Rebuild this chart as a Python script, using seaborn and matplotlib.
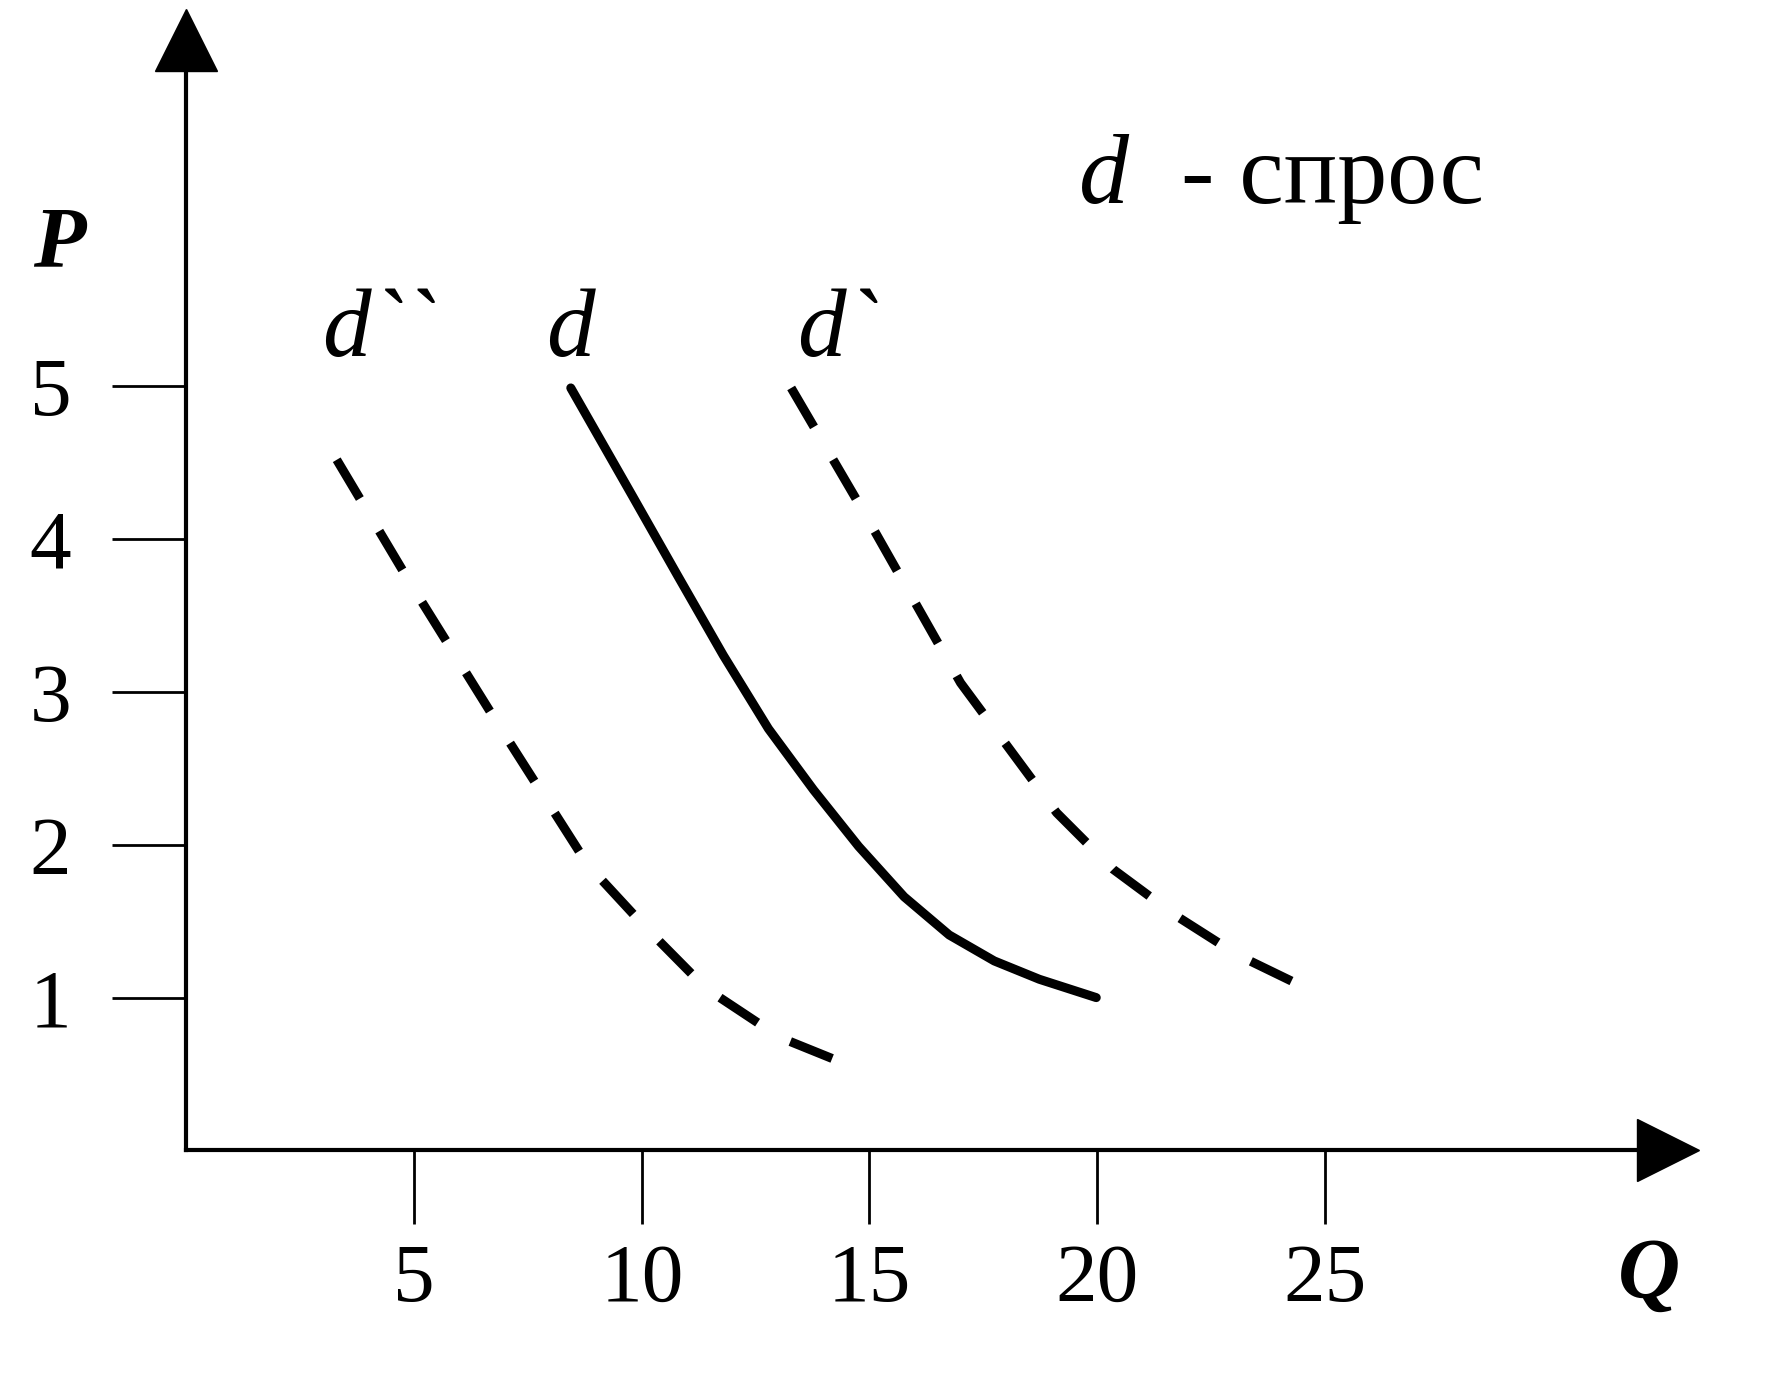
import seaborn as sns
import pandas as pd
import matplotlib.pyplot as plt

# demand curves (Q, P)
d_q = [8.44, 9.80, 10.79, 11.79, 12.78, 13.77, 14.76, 15.76, 16.75, 17.74, 18.73, 19.98]
d_p = [4.99, 4.28, 3.76, 3.24, 2.76, 2.36, 1.99, 1.66, 1.41, 1.24, 1.12, 1.00]

d1_q = [13.28, 14.89, 17.00, 19.11, 20.35, 21.71, 23.08, 24.74]
d1_p = [4.99, 4.17, 3.06, 2.21, 1.84, 1.54, 1.28, 1.04]

d2_q = [3.30, 4.96, 6.82, 8.81, 10.05, 11.41, 13.03, 14.69]
d2_p = [4.52, 3.69, 2.80, 1.87, 1.47, 1.06, 0.74, 0.54]

x_ticks = [5, 10, 15, 20, 25]
y_ticks = [1, 2, 3, 4, 5]

df = pd.concat([
    pd.DataFrame({'Q': d_q, 'P': d_p, 'curve': 'd'}),
    pd.DataFrame({'Q': d1_q, 'P': d1_p, 'curve': 'd1'}),
    pd.DataFrame({'Q': d2_q, 'P': d2_p, 'curve': 'd2'}),
])

sns.set_style('white')
plt.rcParams['font.family'] = ['Liberation Serif', 'DejaVu Serif']
plt.rcParams['text.color'] = 'black'

fig = plt.figure(figsize=(17.72, 13.77), dpi=100)
ax = fig.add_axes([0, 0, 1, 1])

ax = sns.lineplot(data=df, x='Q', y='P', hue='curve', style='curve',
                  palette={'d': 'black', 'd1': 'black', 'd2': 'black'},
                  dashes={'d': '', 'd1': (5, 4.2), 'd2': (5, 4.2)},
                  sort=False, estimator=None, legend=False, linewidth=6.5, ax=ax)
for line in ax.lines:
    line.set_dash_capstyle('butt')
    line.set_solid_capstyle('round')
    line.set_solid_joinstyle('round')

ax.set_xlim(-4.095, 34.82)
ax.set_ylim(-1.483, 7.529)

# axes through the origin with arrow heads
for side in ['top', 'right']:
    ax.spines[side].set_visible(False)
ax.spines['left'].set_position(('data', 0))
ax.spines['bottom'].set_position(('data', 0))
ax.spines['left'].set_bounds(0, 7.1)
ax.spines['bottom'].set_bounds(0, 31.9)
for side in ['left', 'bottom']:
    ax.spines[side].set_linewidth(3)
    ax.spines[side].set_color('black')
ax.plot(0, 7.27, marker='^', color='black', markersize=45, clip_on=False)
ax.plot(32.53, 0, marker='>', color='black', markersize=45, clip_on=False)

ax.set_xticks(x_ticks)
ax.set_yticks(y_ticks)
ax.tick_params(axis='both', bottom=True, left=True, direction='out', length=53,
               width=2, color='black', labelsize=60, labelcolor='black')
ax.tick_params(axis='x', pad=14)
ax.tick_params(axis='y', pad=30)
ax.set_xlabel(None)
ax.set_ylabel(None)
ax.grid(False)

# axis names and curve labels
ax.text(-2.8, 5.92, 'P', fontsize=62, fontweight='bold', fontstyle='italic',
        ha='center', va='center')
ax.text(32.13, -0.83, 'Q', fontsize=62, fontweight='bold', fontstyle='italic',
        ha='center', va='center')
ax.text(19.6, 6.2, 'd', fontsize=72, fontstyle='italic', ha='left', va='baseline')
ax.text(21.84, 6.2, '- спрос', fontsize=72, ha='left', va='baseline')
ax.text(2.98, 5.2, 'd``', fontsize=70, fontstyle='italic', ha='left', va='baseline')
ax.text(7.89, 5.2, 'd', fontsize=70, fontstyle='italic', ha='left', va='baseline')
ax.text(13.4, 5.2, 'd`', fontsize=70, fontstyle='italic', ha='left', va='baseline')

plt.savefig('out.png', dpi=100)
